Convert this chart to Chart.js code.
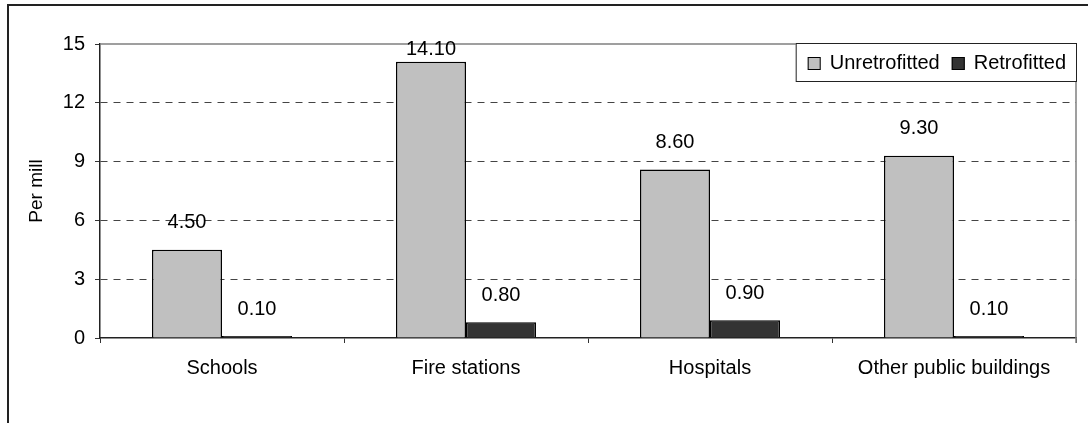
<!DOCTYPE html>
<html>
<head>
<meta charset="utf-8">
<script src="https://cdn.jsdelivr.net/npm/chart.js@4"></script>
<style>
  html, body { margin: 0; padding: 0; background: #fff; overflow: hidden; }
  #wrap { position: relative; width: 1088px; height: 423px; }
  #frame { position: absolute; left: 7px; top: 4px; width: 1200px; height: 500px; border: 2px solid #222; box-sizing: border-box; pointer-events: none; }
</style>
</head>
<body>
<div id="wrap">
  <canvas id="myChart" width="1088" height="423"></canvas>
  <div id="frame"></div>
</div>
<script>
const categories = ['Schools', 'Fire stations', 'Hospitals', 'Other public buildings'];
const unretrofitted = [4.5, 14.1, 8.6, 9.3];
const retrofitted = [0.1, 0.8, 0.9, 0.1];
const seriesNames = ['Unretrofitted', 'Retrofitted'];
const yTicks = [0, 3, 6, 9, 12, 15];

const FONT = "'Liberation Sans', Arial, sans-serif";
const FS = 20;

// value labels above bars
const valueLabels = {
  id: 'valueLabels',
  afterDatasetsDraw(chart) {
    const ctx = chart.ctx;
    ctx.save();
    ctx.font = FS + 'px ' + FONT;
    ctx.fillStyle = '#000';
    ctx.textAlign = 'center';
    ctx.textBaseline = 'middle';
    chart.data.datasets.forEach((ds, i) => {
      chart.getDatasetMeta(i).data.forEach((bar, j) => {
        let y = bar.y - 27;
        if (y < 49) y = 49;
        ctx.fillText(ds.data[j].toFixed(2), bar.x, y);
      });
    });
    ctx.restore();
  }
};

// plot frame (top + right) and legend box
const extras = {
  id: 'extras',
  beforeDatasetsDraw(chart) {
    const a = chart.chartArea, ctx = chart.ctx;
    ctx.save();
    ctx.strokeStyle = '#808080';
    ctx.lineWidth = 1.5;
    ctx.beginPath();
    ctx.moveTo(a.left, a.top);
    ctx.lineTo(a.right, a.top);
    ctx.lineTo(a.right, a.bottom + 5);
    ctx.stroke();
    ctx.restore();
  },
  afterDraw(chart) {
    const ctx = chart.ctx;
    const a = chart.chartArea;
    ctx.save();
    ctx.font = FS + 'px ' + FONT;
    let w = 12;
    chart.data.datasets.forEach(ds => { w += 13 + 9 + ctx.measureText(ds.label).width + 12; });
    w -= 2;
    const h = 38;
    const x0 = a.right - w, y0 = a.top - 1;
    ctx.fillStyle = '#fff';
    ctx.fillRect(x0, y0, w, h);
    ctx.strokeStyle = '#222';
    ctx.lineWidth = 1;
    ctx.strokeRect(x0 + 0.5, y0 + 0.5, w, h);
    ctx.textBaseline = 'middle';
    ctx.textAlign = 'left';
    let x = x0 + 12;
    const cy = y0 + h / 2 + 1;
    chart.data.datasets.forEach(ds => {
      ctx.fillStyle = ds.backgroundColor;
      ctx.fillRect(x, cy - 6, 13, 13);
      ctx.strokeStyle = '#000';
      ctx.strokeRect(x + 0.5, cy - 5.5, 12, 12);
      ctx.fillStyle = '#000';
      ctx.fillText(ds.label, x + 13 + 9, cy);
      x += 13 + 9 + ctx.measureText(ds.label).width + 12;
    });
    ctx.restore();
  }
};

const ctx = document.getElementById('myChart').getContext('2d');
ctx.letterSpacing = '0.6px';
const myChart = new Chart(ctx, {
  type: 'bar',
  data: {
    labels: categories,
    datasets: [{
      label: seriesNames[0],
      data: unretrofitted,
      backgroundColor: '#C0C0C0',
      borderColor: '#000',
      borderWidth: 1.5
    }, {
      label: seriesNames[1],
      data: retrofitted,
      backgroundColor: '#333333',
      borderColor: '#000',
      borderWidth: 1.5
    }]
  },
  options: {
    responsive: false,
    animation: false,
    events: [],
    layout: { padding: { left: 0, top: 44, right: 12, bottom: 0 } },
    datasets: { bar: { categoryPercentage: 0.574, barPercentage: 1 } },
    plugins: { legend: { display: false }, tooltip: { enabled: false } },
    scales: {
      x: {
        afterFit(scale) { scale.height = 85; },
        grid: { display: true, drawOnChartArea: false, tickLength: 5, tickColor: '#333', offset: true },
        border: { display: true, color: '#222', width: 1.5 },
        ticks: { color: '#000', font: { family: FONT, size: FS }, padding: 13, maxRotation: 0 }
      },
      y: {
        min: 0, max: 15,
        afterFit(scale) { scale.width = 100; },
        afterBuildTicks(scale) { scale.ticks = yTicks.map(v => ({ value: v })); },
        grid: {
          color: c => (c.tick && (c.tick.value === 0 || c.tick.value === 15)) ? 'rgba(0,0,0,0)' : '#444',
          lineWidth: 1,
          tickLength: 5,
          tickColor: '#333',
          tickBorderDash: [],
          drawTicks: true
        },
        border: { display: true, color: '#222', width: 1.5, dash: [7, 6] },
        ticks: { color: '#000', font: { family: FONT, size: FS }, padding: 10 },
        title: { display: true, text: 'Per mill', color: '#000', font: { family: FONT, size: 19 }, padding: { top: 25, bottom: 0 } }
      }
    }
  },
  plugins: [extras, valueLabels]
});
</script>
</body>
</html>
